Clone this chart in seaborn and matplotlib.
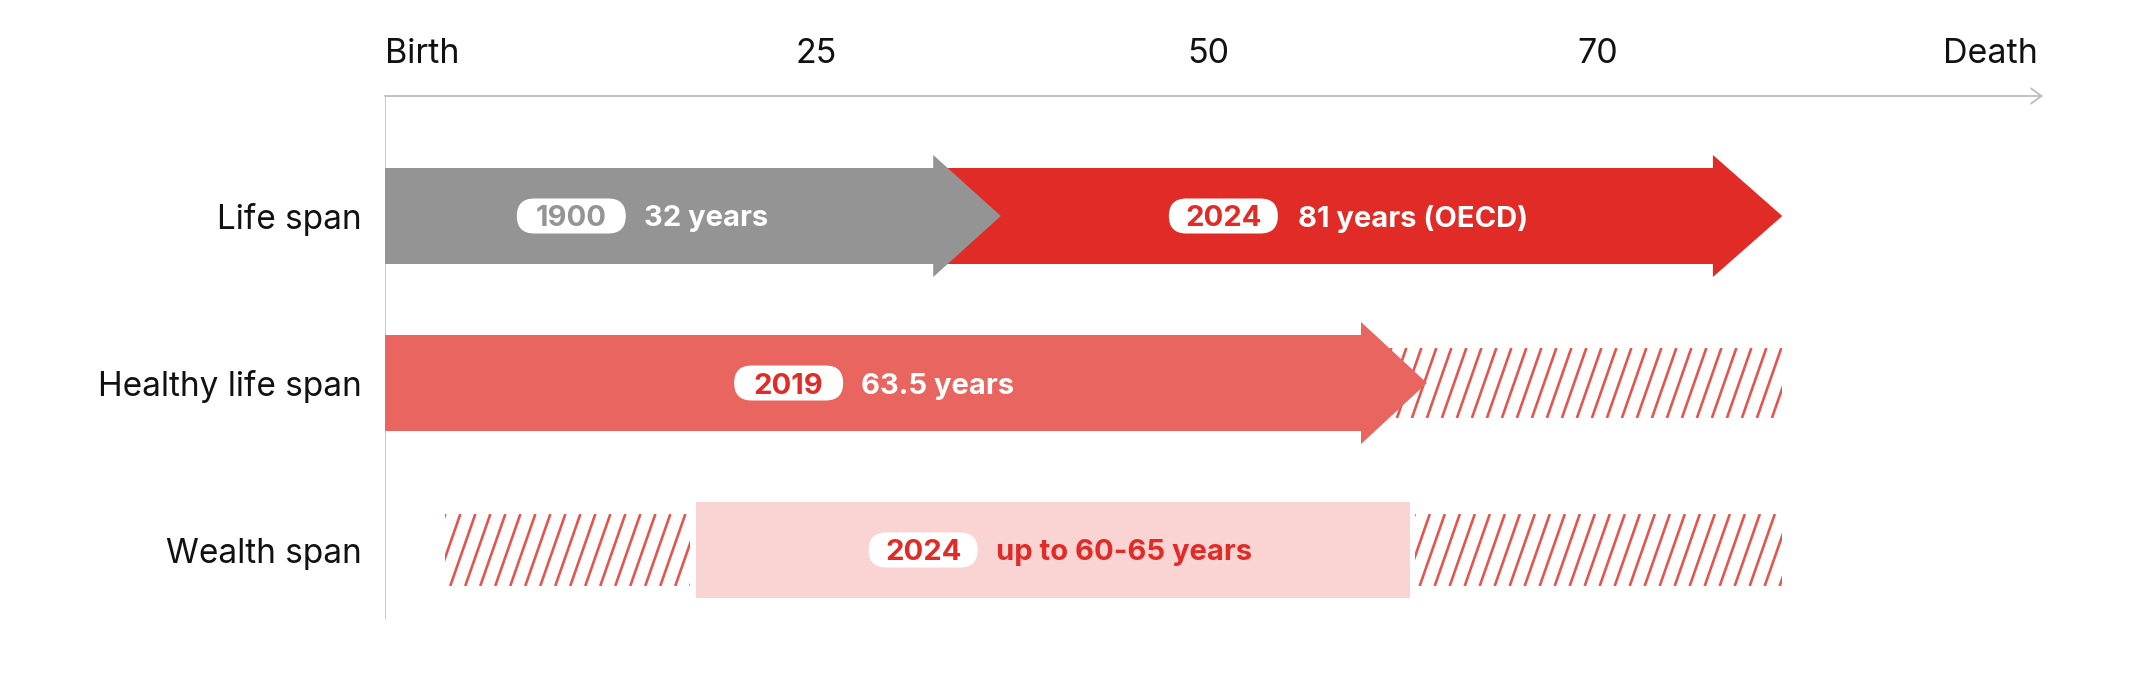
import numpy as np
import pandas as pd
import matplotlib
matplotlib.use("Agg")
import matplotlib.pyplot as plt
import matplotlib.transforms as mtransforms
import seaborn as sns
from matplotlib.patches import Polygon, Rectangle, FancyBboxPatch
from matplotlib.collections import LineCollection

# ---------------- data (years on the chart's schematic scale) ----------------
rows = ["Life span", "Healthy life span", "Wealth span"]
tick_labels = ["Birth", "25", "50", "70", "Death"]
tick_values = [0, 25, 47.7, 70.3, 95.8]

life_1900 = [31.8, 35.7]      # body end, arrow tip
life_2024 = [77.0, 81.0]      # body end, arrow tip
healthy_2019 = [56.6, 60.4]   # body end, arrow tip
healthy_rest = [56.6, 81.0]   # hatched remainder
wealth_before = [3.5, 17.7]   # hatched
wealth_2024 = [18.0, 59.4]    # wealth span box
wealth_after = [59.7, 81.0]   # hatched

pill_years = ["1900", "2024", "2019", "2024"]
span_texts = ["32 years", "81 years (OECD)", "63.5 years", "up to 60-65 years"]

# ---------------- style ----------------
GRAY = "#949495"
RED = "#E02B26"
HEALTHY = "#E96560"
PINK = "#FAD4D3"
HATCH = "#E2564F"
AXIS = "#BDBDBD"

sns.set_theme(style="white")
plt.rcParams["font.family"] = ["Inter", "DejaVu Sans"]

W, H = 2137, 674
fig = plt.figure(figsize=(W / 100, H / 100), dpi=100)
ax_left, ax_right, ax_top, ax_bottom = 385, 2043, 96, 619
ax = fig.add_axes([ax_left / W, 1 - ax_bottom / H, (ax_right - ax_left) / W, (ax_bottom - ax_top) / H])

BODY_H = 0.569
HEAD_H = 0.731

def row_df(values):
    return pd.DataFrame({"row": rows, "x": values})

# bodies via seaborn (red behind gray)
sns.barplot(data=row_df([life_2024[0], np.nan, np.nan]), x="x", y="row", order=rows,
            orient="h", color=RED, width=BODY_H, saturation=1, errorbar=None,
            linewidth=0, ax=ax, zorder=3)
sns.barplot(data=row_df([np.nan, healthy_2019[0], np.nan]), x="x", y="row", order=rows,
            orient="h", color=HEALTHY, width=BODY_H, saturation=1, errorbar=None,
            linewidth=0, ax=ax, zorder=3)
sns.barplot(data=row_df([life_1900[0], np.nan, np.nan]), x="x", y="row", order=rows,
            orient="h", color=GRAY, width=BODY_H, saturation=1, errorbar=None,
            linewidth=0, ax=ax, zorder=5)

xmax = (ax_right - ax_left) / 17.25
row0_px, unit_px = 216, 167
ymin_top = -(row0_px - ax_top) / unit_px
ymax_bot = 2 + (ax_bottom - (row0_px + 2 * unit_px)) / unit_px
ax.set_xlim(0, xmax)
ax.set_ylim(ymax_bot, ymin_top)

def head(body, tip, y, color, z):
    ax.add_patch(Polygon([(body - 0.02, y - HEAD_H / 2), (tip, y), (body - 0.02, y + HEAD_H / 2)],
                         closed=True, facecolor=color, edgecolor="none", zorder=z))

head(life_2024[0], life_2024[1], 0, RED, 3)
head(life_1900[0], life_1900[1], 0, GRAY, 5)
head(healthy_2019[0], healthy_2019[1], 1, HEALTHY, 3)

px_x = (ax_right - ax_left) / xmax
px_y = (ax_bottom - ax_top) / (ymax_bot - ymin_top)

def hatch(x0, x1, yc, h):
    run = h * px_y * (22 / 63) / px_x
    spacing = 15 / px_x
    xs = np.arange(x0 - run, x1 + spacing, spacing)
    segs = [[(x, yc + h / 2), (x + run, yc - h / 2)] for x in xs]
    lc = LineCollection(segs, colors=HATCH, linewidths=1.9, zorder=2)
    clip = Rectangle((x0, yc - h / 2), x1 - x0, h, transform=ax.transData)
    ax.add_collection(lc)
    lc.set_clip_path(clip)

hatch(healthy_rest[0], healthy_rest[1], 1, 70 / px_y)
hatch(wealth_before[0], wealth_before[1], 2, 72 / px_y)
hatch(wealth_after[0], wealth_after[1], 2, 72 / px_y)
ax.add_patch(Rectangle((wealth_2024[0], 2 - BODY_H / 2), wealth_2024[1] - wealth_2024[0], BODY_H,
                       facecolor=PINK, edgecolor="none", zorder=3))

# ---------------- labels ----------------
FS_IN = 21
label_pos = [(10.8, 15.0, 0), (48.6, 52.9, 0), (23.4, 27.6, 1), (31.2, 35.4, 2)]
pill_colors = [GRAY, RED, RED, RED]
text_colors = ["white", "white", "white", RED]
for (cx, tx, ry), yr, txt, pc, tc in zip(label_pos, pill_years, span_texts, pill_colors, text_colors):
    trans = mtransforms.ScaledTranslation(cx, ry, ax.transData)
    ax.add_patch(FancyBboxPatch((-54.5, -17.5), 109, 35, boxstyle="round,pad=0,rounding_size=17.5",
                                facecolor="white", edgecolor="none", transform=trans, zorder=6))
    ax.text(cx, ry, yr, ha="center", va="center_baseline", fontsize=FS_IN, fontweight="bold",
            color=pc, zorder=7)
    ax.text(tx, ry, txt, ha="left", va="center_baseline", fontsize=FS_IN, fontweight="bold",
            color=tc, zorder=7)

# axes lines
ax.axvline(0, color="#C8C8C8", lw=1.4, zorder=0.5)
ax.annotate("", xy=(1.0, 1.0), xytext=(0, 1.0), xycoords="axes fraction",
            arrowprops=dict(arrowstyle="->,head_length=0.75,head_width=0.55", color=AXIS, lw=1.3,
                            shrinkA=0, shrinkB=0, mutation_scale=10),
            annotation_clip=False)

sns.despine(ax=ax, left=True, bottom=True, top=True, right=True)
ax.set_xlabel("")
ax.set_ylabel("")
ax.xaxis.tick_top()
ax.set_xticks(tick_values)
ax.set_xticklabels(tick_labels, fontsize=24.5, color="#111111")
for lab, ha in zip(ax.get_xticklabels(), ["left", "center", "center", "center", "right"]):
    lab.set_ha(ha)
ax.tick_params(axis="x", length=0, pad=18.5)
ax.set_yticks(range(len(rows)))
ax.set_yticklabels(rows, fontsize=24, color="#111111")
ax.tick_params(axis="y", length=0, pad=16.5)

fig.savefig("out.png", dpi=100, facecolor="white")
